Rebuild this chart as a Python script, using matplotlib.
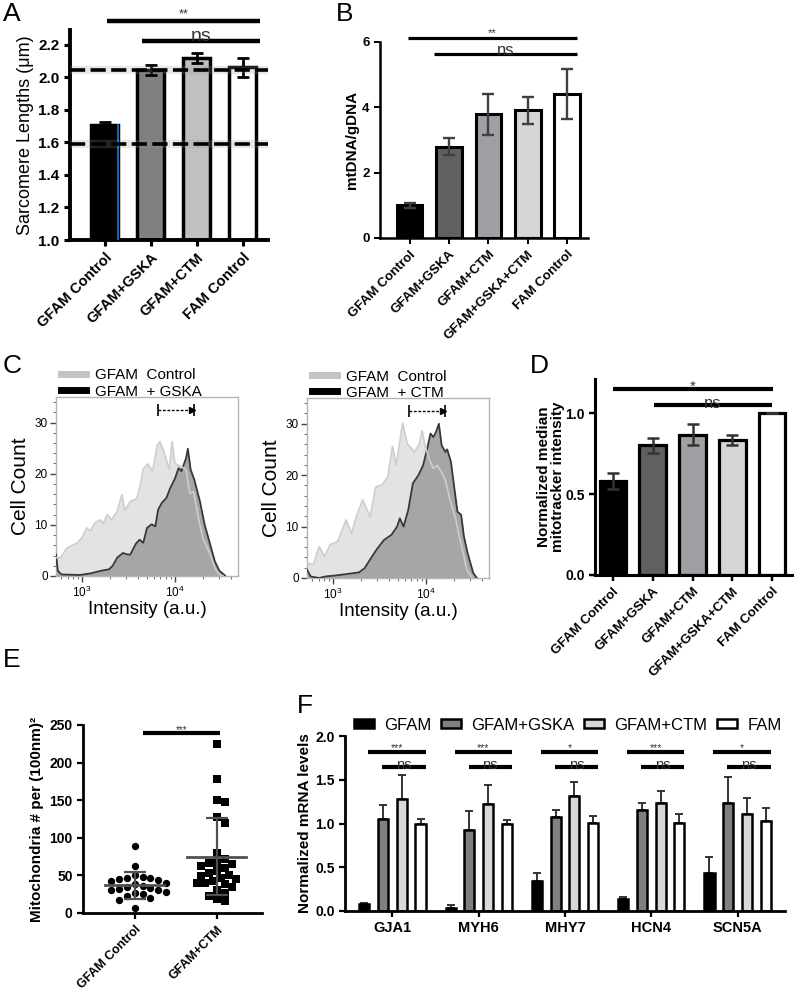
import matplotlib
matplotlib.use('Agg')
import matplotlib.pyplot as plt
from matplotlib.lines import Line2D
from matplotlib.patches import Patch
import numpy as np

plt.rcParams['font.family'] = ['Liberation Sans', 'DejaVu Sans']

W, H = 800, 998

# ---------------- data ----------------
# A: sarcomere lengths
a_groups = ['GFAM Control', 'GFAM+GSKA', 'GFAM+CTM', 'FAM Control']
a_means = [1.708, 2.042, 2.118, 2.06]
a_err = [0.015, 0.03, 0.03, 0.058]
a_refs = [2.042, 1.591]

# B: mtDNA / gDNA
b_groups = ['GFAM Control', 'GFAM+GSKA', 'GFAM+CTM', 'GFAM+GSKA+CTM', 'FAM Control']
b_means = [1.0, 2.79, 3.79, 3.91, 4.40]
b_err = [0.07, 0.26, 0.63, 0.42, 0.76]

# C: flow histograms (log10 intensity, cell count)
c1_ctrl_x = [2.72, 2.77, 2.84, 2.95, 3.00, 3.05, 3.09, 3.14, 3.20, 3.23, 3.27, 3.32, 3.38,
             3.43, 3.46, 3.52, 3.59, 3.63, 3.66, 3.71, 3.76, 3.81, 3.84, 3.88, 3.94, 3.97,
             4.00, 4.07, 4.12, 4.16, 4.20, 4.25, 4.30, 4.38, 4.43, 4.48, 4.52]
c1_ctrl_y = [3.6, 3.6, 5.5, 6.5, 7.5, 9.4, 8.8, 10.4, 11.0, 10.2, 12.0, 11.0, 12.7,
             15.9, 12.8, 14.6, 15.1, 17.9, 21.0, 21.9, 20.5, 25.6, 26.3, 24.4, 20.8, 26.3,
             22.0, 21.4, 20.8, 16.2, 16.5, 11.7, 7.5, 4.2, 1.6, 0.3, 0.0]
c1_trt_x = [2.72, 2.74, 2.78, 2.98, 3.09, 3.20, 3.29, 3.33, 3.38, 3.44, 3.49, 3.52, 3.58,
            3.62, 3.66, 3.70, 3.75, 3.79, 3.82, 3.86, 3.91, 3.95, 4.00, 4.04, 4.07, 4.12,
            4.14, 4.17, 4.21, 4.27, 4.32, 4.38, 4.43, 4.48, 4.54]
c1_trt_y = [4.2, 1.0, 0.3, 0.2, 0.5, 1.0, 1.3, 2.0, 3.6, 4.5, 4.2, 4.2, 6.3,
            7.1, 6.5, 9.4, 10.1, 9.7, 13.0, 14.3, 15.3, 17.2, 19.0, 21.1, 20.5, 23.0,
            24.9, 20.8, 18.8, 14.6, 10.1, 6.2, 2.9, 1.0, 0.1]
c2_ctrl_x = [2.72, 2.79, 2.85, 2.91, 2.97, 3.05, 3.10, 3.14, 3.20, 3.25, 3.32, 3.40, 3.46,
             3.53, 3.59, 3.64, 3.68, 3.75, 3.80, 3.83, 3.88, 3.93, 3.96, 3.99, 4.04, 4.08,
             4.12, 4.17, 4.21, 4.26, 4.32, 4.36, 4.41, 4.44, 4.50]
c2_ctrl_y = [2.9, 2.6, 6.1, 4.2, 6.5, 7.1, 9.4, 11.3, 8.7, 11.9, 15.2, 11.9, 17.7,
             18.1, 19.7, 25.6, 21.9, 30.1, 26.1, 25.5, 24.5, 26.1, 28.7, 25.8, 22.9, 21.3,
             21.9, 20.6, 19.0, 15.2, 11.6, 8.1, 4.2, 1.6, 0.0]
c2_trt_x = [2.72, 2.76, 2.85, 2.92, 3.03, 3.16, 3.28, 3.34, 3.41, 3.48, 3.55, 3.63, 3.69,
            3.72, 3.76, 3.81, 3.86, 3.92, 3.97, 4.01, 4.05, 4.08, 4.11, 4.14, 4.17, 4.21,
            4.23, 4.27, 4.30, 4.34, 4.38, 4.41, 4.45, 4.51, 4.55]
c2_trt_y = [1.6, 0.3, 0.0, 0.3, 0.5, 0.8, 1.1, 1.9, 3.9, 5.8, 7.4, 8.4, 10.0,
            11.6, 10.0, 13.2, 18.4, 20.0, 21.9, 24.8, 28.1, 27.4, 28.4, 30.0, 25.8, 24.5,
            25.0, 22.6, 18.4, 12.9, 12.3, 8.1, 4.8, 1.0, 0.0]
c_shift = [3.82, 4.21]

# D: mitotracker intensity
d_groups = b_groups
d_means = [0.581, 0.80, 0.867, 0.832, 1.0]
d_err = [0.05, 0.046, 0.065, 0.03, 0.0]

# E: mitochondria density
e_groups = ['GFAM Control', 'GFAM+CTM']
e_ctrl = [89, 63, 50, 48, 47, 47, 45, 44, 42, 40, 38, 36, 34, 33, 32, 30, 30, 28, 26, 25,
          22, 20, 17, 6]
e_ctm = [225, 178, 150, 147, 127, 120, 80, 72, 67, 66, 65, 62, 60, 56, 53, 50, 49, 47, 45,
         42, 40, 40, 38, 35, 30, 27, 22, 18, 16]
e_mean = [37, 75]
e_sd = [18, 51]

# F: mRNA levels
f_genes = ['GJA1', 'MYH6', 'MHY7', 'HCN4', 'SCN5A']
f_series = ['GFAM', 'GFAM+GSKA', 'GFAM+CTM', 'FAM']
f_gfam = [0.076, 0.04, 0.346, 0.133, 0.437]
f_gfam_err = [0.012, 0.025, 0.085, 0.03, 0.175]
f_gska = [1.05, 0.93, 1.07, 1.16, 1.236]
f_gska_err = [0.16, 0.21, 0.09, 0.076, 0.29]
f_ctm = [1.28, 1.22, 1.31, 1.236, 1.114]
f_ctm_err = [0.28, 0.22, 0.16, 0.137, 0.18]
f_fam = [0.996, 0.99, 1.01, 1.01, 1.027]
f_fam_err = [0.05, 0.045, 0.08, 0.095, 0.15]
f_sig = ['***', '***', '*', '***', '*']


# ---------------- helpers ----------------
def add_ax(l, t, r, b):
    return fig.add_axes([l / W, 1 - b / H, (r - l) / W, (b - t) / H])


def bar_style(ax, lw):
    for s in ['top', 'right']:
        ax.spines[s].set_visible(False)
    for s in ['left', 'bottom']:
        ax.spines[s].set_linewidth(lw)
    ax.tick_params(width=lw * 0.8, length=4, direction='out')


def sig(ax, x0, x1, y, text, fs, lw=3, dy=0.0):
    ax.plot([x0, x1], [y, y], color='black', lw=lw, clip_on=False, solid_capstyle='butt',
            zorder=6)
    ax.text((x0 + x1) / 2, y + dy, text, ha='center', va='bottom', fontsize=fs,
            color='#333333', clip_on=False, zorder=7)


def bold_ticks(ax, fs):
    for lab in ax.get_yticklabels():
        lab.set_fontweight('bold')
        lab.set_fontsize(fs)


def swarm(vals, xpx, ypx, d):
    vals = np.asarray(vals, dtype=float)
    order = np.argsort(vals)[::-1]
    placed = []
    offs = np.zeros(len(vals))
    for i in order:
        y = vals[i] * ypx
        pos = None
        k = 0
        while pos is None:
            cands = [0.0] if k == 0 else [k * d * 0.5, -k * d * 0.5]
            for x in cands:
                if all((x - px) ** 2 + (y - py) ** 2 >= d * d for px, py in placed):
                    pos = x
                    break
            k += 1
        placed.append((pos, y))
        offs[i] = pos / xpx
    return offs


fig = plt.figure(figsize=(W / 100, H / 100), dpi=100)

letter_fs = 19
for txt, x, y in [('A', 3, 2), ('B', 336, 2), ('C', 3, 354), ('D', 530, 354),
                  ('E', 3, 648), ('F', 297, 694)]:
    fig.text(x / W, 1 - y / H, txt, fontsize=letter_fs, va='top', ha='left')

# ---------------- A ----------------
ax = add_ax(70, 30, 268, 240)
xa = np.arange(len(a_groups))
a_cols = ['black', '#808080', '#c0c0c0', 'white']
ax.bar(xa, np.array(a_means) - 1.0, bottom=1.0, width=0.6, color=a_cols,
       edgecolor='black', linewidth=2.5, zorder=2)
ax.plot([xa[0] + 0.3] * 2, [1.0, a_means[0]], color='#1f77d4', lw=1.2, zorder=3)
ax.errorbar(xa, a_means, yerr=a_err, fmt='none', ecolor='black', elinewidth=2,
            capsize=4.5, capthick=2, zorder=3)
for r in a_refs:
    ax.axhline(r, color='#9a9a9a', lw=6, alpha=0.22, zorder=4)
    ax.axhline(r, color='black', lw=2.6, dashes=(4.2, 1.5), zorder=5)
ax.set_xlim(-0.75, 3.55)
ax.set_ylim(1.0, 2.29)
ax.set_yticks([1.0, 1.2, 1.4, 1.6, 1.8, 2.0, 2.2])
ax.set_xticks(xa)
ax.set_xticklabels(a_groups, rotation=45, ha='right', rotation_mode='anchor',
                   fontsize=10.5, fontweight='bold')
bar_style(ax, 2.8)
bold_ticks(ax, 11)
ax.set_ylabel('Sarcomere Lengths (μm)', fontsize=13, labelpad=3)
sig(ax, 0.05, 3.38, 2.344, '**', 9, lw=3.2, dy=0.005)
sig(ax, 0.82, 3.38, 2.225, 'ns', 14, lw=3.2, dy=-0.03)

# ---------------- B ----------------
ax = add_ax(380, 42, 588, 238)
xb = np.arange(len(b_groups))
bd_cols = ['black', '#606060', '#a0a0a4', '#d6d6d6', 'white']
ax.bar(xb, b_means, width=0.65, color=bd_cols, edgecolor='black', linewidth=2.2, zorder=2)
ax.errorbar(xb, b_means, yerr=b_err, fmt='none', ecolor='#404040', elinewidth=1.7,
            capsize=4.5, capthick=1.7, zorder=3)
ax.set_xlim(-0.75, 4.53)
ax.set_ylim(0, 6)
ax.set_yticks([0, 2, 4, 6])
ax.set_xticks(xb)
ax.set_xticklabels(b_groups, rotation=45, ha='right', rotation_mode='anchor',
                   fontsize=9.5, fontweight='bold')
bar_style(ax, 1.8)
bold_ticks(ax, 9.5)
ax.set_ylabel('mtDNA/gDNA', fontsize=11, fontweight='bold', labelpad=2)
sig(ax, -0.05, 4.25, 6.12, '**', 8, lw=2.3, dy=0.0)
sig(ax, 0.63, 4.25, 5.63, 'ns', 12, lw=2.3, dy=-0.12)

# ---------------- C ----------------
c_sets = [
    ((56, 397, 238, 576), c1_ctrl_x, c1_ctrl_y, c1_trt_x, c1_trt_y, 'GFAM  + GSKA'),
    ((307, 398, 489, 578), c2_ctrl_x, c2_ctrl_y, c2_trt_x, c2_trt_y, 'GFAM  + CTM'),
]
for box, cx, cy, tx, ty, lab in c_sets:
    ax = add_ax(*box)
    cxi = 10 ** np.array(cx)
    txi = 10 ** np.array(tx)
    ax.fill_between(cxi, cy, 0, color='#e3e3e3', lw=0, zorder=1)
    ax.fill_between(txi, ty, 0, color='#a6a6a6', lw=0, zorder=2)
    ax.plot(txi, ty, color='#383838', lw=1.3, zorder=3)
    ax.plot(cxi, cy, color='#cdcdcd', lw=1.2, zorder=4)
    ax.set_xscale('log')
    ax.set_xlim(10 ** 2.72, 10 ** 4.68)
    ax.set_ylim(0, 35)
    ax.set_yticks([0, 10, 20, 30])
    ax.set_yticks(np.arange(0, 35, 2), minor=True)
    sx = 10 ** np.array(c_shift)
    ax.plot(sx, [32.5, 32.5], color='black', lw=1, ls=(0, (2, 1.2)))
    ax.plot(sx, [32.5, 32.5], ls='none', marker='|', ms=9, mew=1.2, color='black')
    ax.plot([sx[1] / 10 ** 0.025], [32.5], ls='none', marker='>', ms=5, color='black')
    for s in ax.spines.values():
        s.set_color('#b5b5b5')
        s.set_linewidth(1)
    ax.tick_params(axis='both', which='major', length=4, width=1, color='#444444',
                   labelsize=8.5, pad=2)
    ax.tick_params(axis='both', which='minor', length=2, width=0.8, color='#777777')
    ax.set_ylabel('Cell Count', fontsize=15, labelpad=3)
    ax.set_xlabel('Intensity (a.u.)', fontsize=13.5, labelpad=1)
    handles = [Line2D([], [], color='#c4c4c4', lw=5), Line2D([], [], color='black', lw=5)]
    ax.legend(handles, ['GFAM  Control', lab], loc='lower left', bbox_to_anchor=(0.03, 0.99),
              frameon=False, fontsize=11, handlelength=1.6, handletextpad=0.6,
              labelspacing=0.15, borderpad=0, borderaxespad=0)

# ---------------- D ----------------
ax = add_ax(595, 379, 792, 575)
xd = np.arange(len(d_groups))
ax.bar(xd, d_means, width=0.67, color=bd_cols, edgecolor='black', linewidth=2.3, zorder=2)
ax.errorbar(xd, d_means, yerr=d_err, fmt='none', ecolor='#333333', elinewidth=1.8,
            capsize=4.5, capthick=1.8, zorder=3)
ax.set_xlim(-0.45, 4.5)
ax.set_ylim(0, 1.21)
ax.set_yticks([0.0, 0.5, 1.0])
ax.set_xticks(xd)
ax.set_xticklabels(d_groups, rotation=45, ha='right', rotation_mode='anchor',
                   fontsize=9.5, fontweight='bold')
bar_style(ax, 2.2)
bold_ticks(ax, 10)
ax.set_ylabel('Normalized median\nmitotracker intensity', fontsize=11, fontweight='bold',
              labelpad=0, linespacing=1.0)
sig(ax, 0.0, 4.02, 1.148, '*', 11, lw=3, dy=-0.03)
sig(ax, 1.03, 4.0, 1.05, 'ns', 12, lw=3, dy=-0.035)

# ---------------- E ----------------
ax = add_ax(83, 725, 262, 913)
xpx, ypx = 82.0, 188.0 / 250.0
for i, (vals, mk) in enumerate([(e_ctrl, 'o'), (e_ctm, 's')]):
    offs = swarm(vals, xpx, ypx, 7.8)
    ax.scatter(i + offs, vals, marker=mk, s=28, color='black', zorder=3, linewidths=0)
    ax.plot([i - 0.36, i + 0.36], [e_mean[i]] * 2, color='#505050', lw=2, zorder=4)
    ax.errorbar([i], [e_mean[i]], yerr=[e_sd[i]], fmt='none', ecolor='#505050',
                elinewidth=1.6, capsize=8, capthick=1.6, zorder=4)
ax.set_xlim(-0.63, 1.55)
ax.set_ylim(0, 250)
ax.set_yticks([0, 50, 100, 150, 200, 250])
ax.set_xticks([0, 1])
ax.set_xticklabels(e_groups, rotation=45, ha='right', rotation_mode='anchor',
                   fontsize=9, fontweight='bold')
bar_style(ax, 2)
bold_ticks(ax, 10)
ax.set_ylabel('Mitochondria # per (100nm)²', fontsize=11, fontweight='bold', labelpad=4)
sig(ax, 0.1, 1.04, 239, '***', 7, lw=3, dy=-3)

# ---------------- F ----------------
ax = add_ax(345, 736, 785, 911)
xf = np.arange(len(f_genes))
step, bw = 0.217, 0.117
f_vals = [f_gfam, f_gska, f_ctm, f_fam]
f_errs = [f_gfam_err, f_gska_err, f_ctm_err, f_fam_err]
f_cols = ['black', '#808080', '#d8d8d8', 'white']
for k in range(4):
    pos = xf + (k - 1.5) * step
    ax.bar(pos, f_vals[k], width=bw, color=f_cols[k], edgecolor='black', linewidth=1.8,
           zorder=2, label=f_series[k])
    ax.errorbar(pos, f_vals[k], yerr=[np.zeros(5), f_errs[k]], fmt='none', ecolor='#333333',
                elinewidth=1.4, capsize=3, capthick=1.4, zorder=1)
for g in xf:
    sig(ax, g - 0.28, g + 0.385, 1.82, f_sig[g], 7.5, lw=3, dy=-0.02)
    sig(ax, g - 0.117, g + 0.385, 1.645, 'ns', 10.5, lw=3, dy=-0.06)
ax.set_xlim(-0.55, 4.55)
ax.set_ylim(0, 2.0)
ax.set_yticks([0.0, 0.5, 1.0, 1.5, 2.0])
ax.set_xticks(xf)
ax.set_xticklabels(f_genes, fontsize=10.5, fontweight='bold')
bar_style(ax, 2)
bold_ticks(ax, 10)
ax.set_ylabel('Normalized mRNA levels', fontsize=11, fontweight='bold', labelpad=2)
handles = [Patch(facecolor=c, edgecolor='black', linewidth=1.8) for c in f_cols]
ax.legend(handles, f_series, ncol=4, loc='lower left', bbox_to_anchor=(0.02, 1.02),
          frameon=False, fontsize=12, handlelength=1.2, handleheight=0.45,
          handletextpad=0.6, columnspacing=0.6, borderpad=0, borderaxespad=0)

fig.savefig('out.png', dpi=100)
